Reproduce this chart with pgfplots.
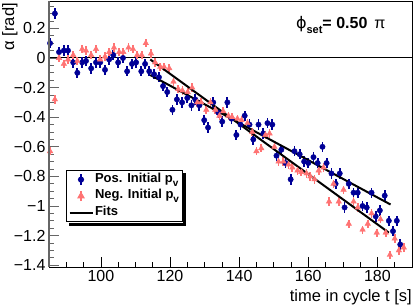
\documentclass[border=0pt]{standalone}
\usepackage{pgfplots}
\pgfplotsset{compat=1.18}
\usepackage{pgfplotstable}
\usepackage{fontspec}
\setmainfont{Liberation Sans}
\newfontfamily\dejavu{DejaVu Sans}
\definecolor{rblue}{RGB}{0,0,150}
\definecolor{rpink}{RGB}{255,115,115}

\pgfplotstableread{
t a e
85.3 0.10 0.035
86.7 0.30 0.035
87.9 0.04 0.035
89.3 0.05 0.035
90.5 0.05 0.035
92.0 -0.03 0.035
93.2 -0.10 0.035
94.6 -0.03 0.035
95.7 -0.02 0.035
97.2 -0.07 0.035
98.6 -0.03 0.035
99.8 -0.03 0.035
101.2 -0.08 0.035
102.4 -0.01 0.035
103.6 0.02 0.035
105.0 -0.03 0.035
106.4 0.00 0.035
107.6 -0.09 0.035
109.0 -0.04 0.035
110.2 -0.03 0.035
111.7 -0.09 0.035
112.8 -0.04 0.035
114.0 -0.09 0.035
115.4 -0.11 0.035
116.8 -0.13 0.035
118.0 -0.19 0.035
119.2 -0.23 0.035
120.7 -0.35 0.035
122.0 -0.28 0.035
123.5 -0.30 0.035
125.0 -0.27 0.035
126.2 -0.32 0.035
127.3 -0.28 0.035
128.5 -0.32 0.035
129.9 -0.42 0.035
131.0 -0.47 0.035
132.5 -0.30 0.035
134.0 -0.37 0.035
135.1 -0.43 0.035
136.6 -0.30 0.035
137.8 -0.41 0.035
139.2 -0.52 0.035
140.4 -0.45 0.035
141.6 -0.39 0.035
143.0 -0.45 0.035
144.1 -0.55 0.035
145.6 -0.45 0.035
147.0 -0.51 0.035
148.2 -0.44 0.035
149.6 -0.45 0.035
150.8 -0.66 0.035
152.2 -0.62 0.035
153.4 -0.71 0.035
154.9 -0.82 0.035
156.0 -0.63 0.035
157.5 -0.65 0.035
158.8 -0.70 0.035
160.0 -0.71 0.035
161.5 -0.67 0.035
162.7 -0.71 0.035
164.1 -0.60 0.035
165.3 -0.71 0.035
166.7 -0.78 0.035
167.9 -0.85 0.035
169.1 -0.78 0.035
170.5 -1.01 0.035
171.7 -0.85 0.035
173.1 -0.91 0.035
174.3 -0.91 0.035
175.7 -1.00 0.035
176.9 -1.01 0.035
178.3 -0.91 0.035
179.5 -1.07 0.035
180.7 -1.03 0.035
182.1 -0.93 0.035
183.3 -1.10 0.035
184.5 -1.17 0.035
185.6 -1.10 0.035
186.6 -1.26 0.035
}\posdata

\pgfplotstableread{
t a e
85.3 -0.63 0.028
86.7 -0.28 0.028
87.9 0.00 0.028
89.3 -0.04 0.028
90.5 -0.01 0.028
92.0 0.02 0.028
93.2 -0.02 0.028
94.6 0.06 0.028
95.7 0.05 0.028
97.2 0.02 0.028
98.6 0.06 0.028
99.8 -0.01 0.028
101.2 0.01 0.028
102.4 0.04 0.028
103.8 0.07 0.028
105.3 0.04 0.028
106.5 0.04 0.028
108.0 0.07 0.028
109.3 0.06 0.028
110.5 0.02 0.028
111.8 0.02 0.028
113.0 0.10 0.028
114.5 0.03 0.028
115.7 -0.03 0.028
117.2 -0.06 0.028
118.3 -0.06 0.028
119.8 -0.07 0.028
121.0 -0.16 0.028
122.4 -0.21 0.028
123.6 -0.22 0.028
125.1 -0.23 0.028
126.4 -0.20 0.028
127.9 -0.30 0.028
129.0 -0.30 0.028
130.5 -0.35 0.028
131.7 -0.30 0.028
133.1 -0.35 0.028
134.3 -0.39 0.028
135.4 -0.36 0.028
136.9 -0.39 0.028
138.0 -0.40 0.028
139.5 -0.41 0.028
140.7 -0.42 0.028
142.4 -0.44 0.028
143.8 -0.50 0.028
145.0 -0.63 0.028
146.4 -0.61 0.028
147.6 -0.52 0.028
148.8 -0.51 0.028
150.2 -0.60 0.028
151.4 -0.70 0.028
152.8 -0.70 0.028
154.3 -0.72 0.028
155.4 -0.74 0.028
156.9 -0.76 0.028
158.0 -0.77 0.028
159.5 -0.78 0.028
160.6 -0.80 0.028
161.8 -0.82 0.028
163.0 -0.76 0.028
164.4 -0.74 0.028
166.0 -0.97 0.028
167.3 -0.85 0.028
168.8 -0.97 0.028
170.2 -0.89 0.028
171.7 -1.12 0.028
173.1 -0.97 0.028
174.3 -1.01 0.028
175.7 -1.16 0.028
177.2 -1.12 0.028
178.3 -1.05 0.028
179.8 -1.18 0.028
180.9 -1.09 0.028
182.4 -1.18 0.028
183.6 -1.33 0.028
185.0 -1.22 0.028
186.2 -1.30 0.028
187.6 -1.28 0.028
}\negdata

\begin{document}
\begin{tikzpicture}
\useasboundingbox (0pt,0pt) rectangle (415pt,307pt);
\begin{axis}[
  at={(49pt,40pt)}, anchor=south west,
  scale only axis, width=363pt, height=266pt,
  xmin=85, xmax=190, ymin=-1.412, ymax=0.385,
  axis line style={black, line width=0.9pt},
  tick align=inside, tick pos=left,
  major tick length=9.5pt, minor tick length=5pt,
  tick style={black, line width=0.7pt},
  ytick style={black!60, line width=0.9pt},
  xtick={100,120,140,160,180},
  xticklabels={100,120,140,160,180},
  minor xtick={85,90,...,190},
  ytick={-1.4,-1.2,-1,-0.8,-0.6,-0.4,-0.2,0,0.2},
  yticklabels={−1.4,−1.2,−1,−0.8,−0.6,−0.4,−0.2,0,0.2},
  minor ytick={-1.4,-1.35,...,0.36},
  ticklabel style={font=\fontsize{16}{16}\selectfont, black},
  xlabel={time in cycle t [s]},
  xlabel style={at={(axis description cs:1,0)}, anchor=base east, yshift=-35pt, font=\fontsize{16.5}{16.5}\selectfont, inner sep=0pt},
  ylabel={α [rad]},
  ylabel style={at={(axis description cs:-0.0964,0.993)}, anchor=base east, rotate=0, font=\fontsize{16.5}{16.5}\selectfont, inner sep=0pt},
  legend style={name=leg, at={(axis description cs:0.047,0.365)}, anchor=north west,
    draw=black, line width=0.9pt, fill=white,
    font=\bfseries\fontsize{13}{15}\selectfont,
    inner xsep=2pt, inner ysep=1pt, row sep=0pt,
    nodes={inner sep=1.5pt, text height=9.5pt, text depth=4pt},
    legend cell align=left},
]
\addplot[black, line width=1pt, forget plot] coordinates {(85,0) (190,0)};
\addplot[rblue, only marks, mark=*, mark size=2.7pt,
  legend image code/.code={\draw[rblue, line width=1.8pt] (11.5pt,-5.5pt) -- (11.5pt,5.5pt); \fill[rblue] (11.5pt,0pt) circle (2.6pt);},
  error bars/.cd, y dir=both, y explicit,
  error bar style={line width=1.8pt, rblue}, error mark=none]
  table[x=t, y=a, y error=e] {\posdata};
\addlegendentry{Pos. Initial p\raisebox{-4pt}{\fontsize{10}{10}\selectfont v}}
\addplot[rpink, only marks, mark=triangle*, mark size=3.2pt,
  legend image code/.code={\draw[rpink, line width=1.8pt] (11.5pt,-5pt) -- (11.5pt,5pt); \path[fill=rpink] (11.5pt,0pt) ++(90:3.6pt) -- ++(240:6.2pt) -- ++(0:6.2pt) -- cycle;},
  error bars/.cd, y dir=both, y explicit,
  error bar style={line width=1.8pt, rpink}, error mark=none]
  table[x=t, y=a, y error=e] {\negdata};
\addlegendentry{Neg. Initial p\raisebox{-4pt}{\fontsize{10}{10}\selectfont v}}
\addplot[black, line width=2pt,
  legend image code/.code={\draw[black, line width=2pt] (0pt,0pt) -- (23pt,0pt);}]
  coordinates {(114.3,-0.01) (183.3,-1.18)};
\addlegendentry{Fits}
\addplot[black, line width=2pt, forget plot] coordinates {(114.3,-0.115) (183.8,-0.99)};
\node[anchor=base west, font=\fontsize{16}{16}\selectfont, inner sep=0pt] at (axis description cs:0.680,0.895)
  {{\dejavu ϕ}\raisebox{-4.5pt}{\fontsize{11}{11}\selectfont\bfseries set}\textbf{= 0.50}\hspace{7pt}π};
\end{axis}
\draw[black!60, line width=1.4pt] (49pt,40pt) -- (49pt,306pt);
\fill[black] ([xshift=3pt,yshift=-3.2pt]leg.south west) rectangle ([xshift=3.2pt,yshift=-0.45pt]leg.south east);
\fill[black] ([xshift=0.45pt,yshift=-3.2pt]leg.south east) rectangle ([xshift=3.2pt,yshift=-3pt]leg.north east);
\end{tikzpicture}
\end{document}
